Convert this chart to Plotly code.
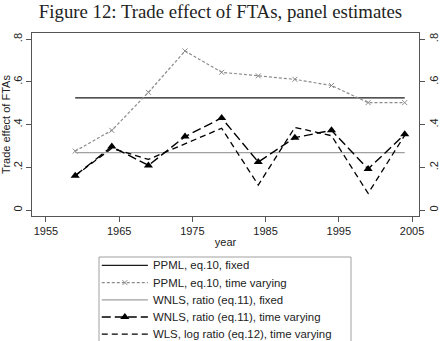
import plotly.graph_objects as go

years = [1959, 1964, 1969, 1974, 1979, 1984, 1989, 1994, 1999, 2004]
fixed_years = [1959, 2004]
ppml_fixed = [0.525, 0.525]
ppml_tv = [0.276, 0.373, 0.551, 0.745, 0.645, 0.628, 0.612, 0.583, 0.503, 0.503]
wnls_fixed = [0.269, 0.269]
wnls_tv = [0.161, 0.297, 0.209, 0.344, 0.431, 0.225, 0.339, 0.373, 0.192, 0.355]
wls_tv = [0.161, 0.289, 0.237, 0.31, 0.383, 0.117, 0.387, 0.348, 0.078, 0.350]

x_ticks = [1955, 1965, 1975, 1985, 1995, 2005]
y_ticks = [0, 0.2, 0.4, 0.6, 0.8]
y_ticktext = ["0", ".2", ".4", ".6", ".8"]

series_names = ["PPML, eq.10, fixed", "PPML, eq.10, time varying",
                "WNLS, ratio (eq.11), fixed", "WNLS, ratio (eq.11), time varying",
                "WLS, log ratio (eq.12), time varying"]

W, H = 441, 341
L, R, T = 32, 22, 33
plot_bottom = 216
plot_h = H - T
main_dom = [(H - plot_bottom) / plot_h, 1]

styles = [
    dict(mode="lines", line=dict(color="#1a1a1a", width=1.4)),
    dict(mode="lines+markers", line=dict(color="#8c8c8c", width=1.2, dash="3px,2px"),
         marker=dict(symbol="x-thin", size=5, color="#8c8c8c", line=dict(color="#8c8c8c", width=1))),
    dict(mode="lines", line=dict(color="#a0a0a0", width=1.2)),
    dict(mode="lines+markers", line=dict(color="#000000", width=1.4, dash="9px,4px"),
         marker=dict(symbol="triangle-up", size=8, color="#000000")),
    dict(mode="lines", line=dict(color="#000000", width=1.3, dash="6px,4px")),
]
xs = [fixed_years, years, fixed_years, years, years]
ys = [ppml_fixed, ppml_tv, wnls_fixed, wnls_tv, wls_tv]

fig = go.Figure()
for i in range(5):
    fig.add_trace(go.Scatter(x=xs[i], y=ys[i], name=series_names[i], showlegend=False, **styles[i]))

fig.add_trace(go.Scatter(x=[years[0]], y=[wnls_tv[0]], yaxis="y2", mode="markers",
                         marker=dict(opacity=0), showlegend=False, hoverinfo="skip"))

# hand-built legend (key box below the plot, clipped by the page edge as in the original)
leg_left, leg_right, leg_top = 99, 351, 257
leg_dom_x = [(leg_left - L) / (W - L - R), (leg_right - L) / (W - L - R)]
leg_dom_y = [0, (H - leg_top) / plot_h]
leg_h = H - leg_top
row0, row_gap = 8.4, 17.2
samp_x0, samp_x1, text_x = 0.011, 0.194, 0.206
for i in range(5):
    yy = row0 + i * row_gap
    st = styles[i]
    fig.add_trace(go.Scatter(x=[samp_x0, samp_x1], y=[yy, yy], xaxis="x2", yaxis="y3",
                             mode="lines", line=st["line"], showlegend=False, hoverinfo="skip"))
    if "marker" in st:
        fig.add_trace(go.Scatter(x=[(samp_x0 + samp_x1) / 2], y=[yy], xaxis="x2", yaxis="y3",
                                 mode="markers", marker=st["marker"], showlegend=False,
                                 hoverinfo="skip"))
    fig.add_annotation(x=text_x, y=yy, xref="x2", yref="y3", text=series_names[i],
                       showarrow=False, xanchor="left", yanchor="middle",
                       font=dict(family="Liberation Sans, Arial, sans-serif", size=11.4, color="#222"))

fig.add_shape(type="rect", xref="paper", yref="paper",
              x0=leg_dom_x[0], x1=leg_dom_x[1], y0=-0.05, y1=leg_dom_y[1],
              line=dict(color="#a0a0a0", width=1), layer="below")

axis_font = dict(family="Liberation Sans, Arial, sans-serif", size=11, color="#222")

fig.update_layout(
    width=W, height=H,
    margin=dict(l=L, r=R, t=T, b=0, autoexpand=False),
    paper_bgcolor="white", plot_bgcolor="white",
    title=dict(text="Figure 12: Trade effect of FTAs, panel estimates",
               x=0.5, xanchor="center", y=1 - 11 / H, yanchor="middle",
               font=dict(family="Liberation Serif, Times New Roman, serif", size=18.8, color="#222")),
    showlegend=False,
    xaxis=dict(range=[1953.1, 2005.95], tickvals=x_ticks, ticks="outside", ticklen=5,
               tickcolor="#555", showline=True, linecolor="#555", linewidth=1, mirror=True,
               showgrid=False, zeroline=False, tickfont=axis_font, anchor="y",
               title=dict(text="year", font=axis_font, standoff=2)),
    yaxis=dict(range=[-0.028, 0.829], tickvals=y_ticks, ticktext=y_ticktext, tickangle=-90,
               domain=main_dom, anchor="x",
               ticks="outside", ticklen=5, tickcolor="#555", showline=True, linecolor="#555",
               linewidth=1, mirror=True, showgrid=False, zeroline=False, tickfont=axis_font,
               title=dict(text="Trade effect of FTAs", font=axis_font, standoff=6)),
    yaxis2=dict(range=[-0.028, 0.829], tickvals=y_ticks, ticktext=y_ticktext, tickangle=-90,
                domain=main_dom, anchor="x",
                overlaying="y", side="right", ticks="outside", ticklen=5, tickcolor="#555",
                showgrid=False, zeroline=False, tickfont=axis_font, showline=False),
    xaxis2=dict(domain=leg_dom_x, range=[0, 1], anchor="y3", visible=False, fixedrange=True),
    yaxis3=dict(domain=leg_dom_y, range=[leg_h, 0], anchor="x2", visible=False, fixedrange=True),
)

fig.write_html("out.html")
